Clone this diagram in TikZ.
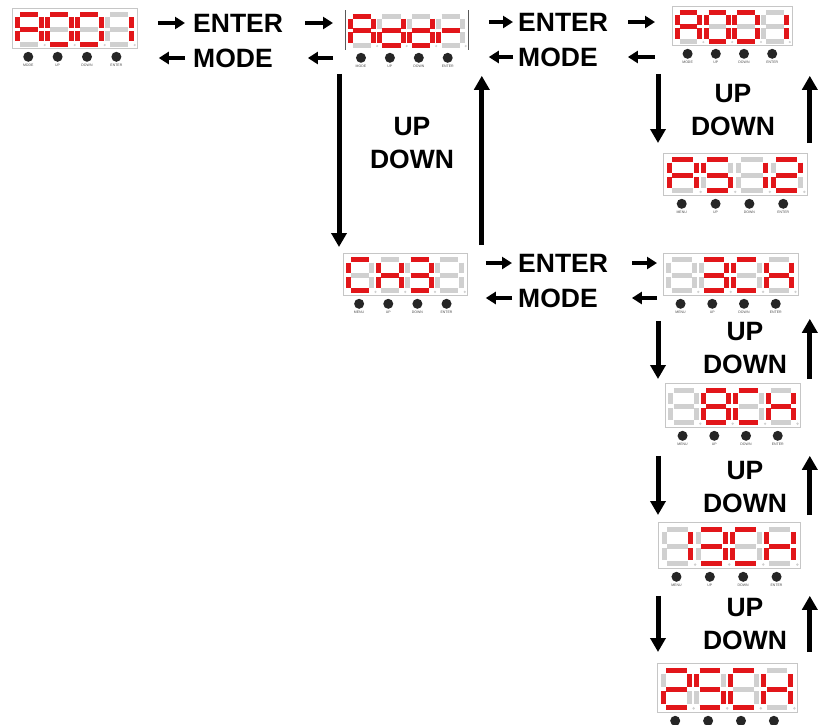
\documentclass[tikz,border=0pt]{standalone}
\usepackage{fontspec}
\setmainfont{Liberation Sans}
\usetikzlibrary{arrows.meta,positioning}

\definecolor{segred}{RGB}{226,22,26}
\definecolor{seggray}{RGB}{208,208,208}

\newcommand{\segpatha}{(2.6,0) -- (20.9,0)}
\newcommand{\segpathb}{(23.5,2.6) -- (23.5,13)}
\newcommand{\segpathc}{(23.5,16.5) -- (23.5,26.9)}
\newcommand{\segpathd}{(2.6,29.5) -- (20.9,29.5)}
\newcommand{\segpathe}{(0,16.5) -- (0,26.9)}
\newcommand{\segpathf}{(0,2.6) -- (0,13)}
\newcommand{\segpathg}{(2.6,14.75) -- (20.9,14.75)}
\newcommand{\segpathn}{}

\tikzset{
  segoff/.style={draw=seggray, line width=5pt},
  segon/.style={draw=segred, line width=5pt},
  panel/.style={draw=gray!45, line width=0.8pt, inner sep=0pt},
  panelside/.style={draw=black!65, line width=0.8pt},
  btn/.style={circle, fill=black!85, minimum size=10pt, inner sep=0pt},
  btnlabel/.style={font=\fontsize{3.5}{4}\selectfont, text=black!70, inner sep=0.5pt},
  keytext/.style={font=\fontsize{26.5}{30}\selectfont\bfseries, inner sep=0pt},
  updown/.style={font=\fontsize{26.5}{33}\selectfont\bfseries, align=center, inner sep=0pt},
  harr/.style={line width=4pt, -{Triangle[length=10pt,width=12pt]}},
  varr/.style={line width=5pt, -{Triangle[length=14pt,width=15pt]}}
}

\newcommand{\dpanel}[7][]{%
  \node[panel, #1, anchor=north west, minimum width=#4, minimum height=#5] (#2) at (#3) {};
  \begin{scope}[shift={(#2.north west)}, xscale=#4/125, yscale=#5/40]
    \foreach \segs [count=\k from 0] in {#6} {
      \begin{scope}[shift={(5.5+30*\k,6.5)}]
        \foreach \s in {a,b,c,d,e,f,g} \draw[segoff] \csname segpath\s\endcsname;
        \fill[seggray] (27.2,30.5) circle (1.2);
        \foreach \s in \segs \draw[segon] \csname segpath\s\endcsname;
      \end{scope}
    }
  \end{scope}
  \foreach \lab [count=\k from 0] in {#7,UP,DOWN,ENTER} {
    \node[btn] (#2-b\k) at ([xshift={#4*(0.13+0.235*\k)}, yshift=-8pt]#2.south west) {};
    \ifx\relax#7\relax\else\node[btnlabel, below=1pt of #2-b\k] {\lab};\fi
  }
}

\begin{document}
\begin{tikzpicture}[x=1pt, y={(0pt,-1pt)}]
  \useasboundingbox[fill=white] (0,0) rectangle (823,724);

  \dpanel{p1}{12,8}{125}{40}{{a,b,c,e,f,g},{a,b,c,d,e,f},{a,b,c,d,e,f},{b,c}}{MODE}
  \dpanel[draw=none]{p2}{345,10}{123}{39}{{a,b,c,e,f,g},{b,c,d,e,g},{b,c,d,e,g},{e,g}}{MODE}
  \draw[panelside] (p2.north west) -- (p2.south west) (p2.north east) -- (p2.south east);
  \dpanel{p3}{672,6}{120}{39}{{a,b,c,e,f,g},{a,b,c,d,e,f},{a,b,c,d,e,f},{b,c}}{MODE}
  \dpanel{p4}{663,153}{144}{42}{{a,b,c,e,f,g},{a,c,d,f,g},{b,c},{a,b,d,e,g}}{MENU}
  \dpanel{p5}{343,253}{124}{42}{{a,d,e,f},{b,c,e,f,g},{a,b,c,d,g},{n}}{MENU}
  \dpanel{p6}{663,253}{135}{42}{{n},{a,b,c,d,g},{a,d,e,f},{b,c,e,f,g}}{MENU}
  \dpanel{p7}{665,383}{135}{44}{{n},{a,b,c,d,e,f,g},{a,d,e,f},{b,c,e,f,g}}{MENU}
  \dpanel{p8}{658,522}{142}{46}{{b,c},{a,b,c,d,g},{a,d,e,f},{b,c,e,f,g}}{MENU}
  \dpanel{p9}{657,663}{140}{49}{{a,b,d,e,g},{a,c,d,f,g},{a,d,e,f},{b,c,e,f,g}}{}

  \node[keytext, anchor=west] (e1) at (193,23) {ENTER};
  \node[keytext, anchor=west] (m1) at (193,58) {MODE};
  \node[keytext, anchor=west] (e2) at (518,22) {ENTER};
  \node[keytext, anchor=west] (m2) at (518,57) {MODE};
  \node[keytext, anchor=west] (e3) at (518,263) {ENTER};
  \node[keytext, anchor=west] (m3) at (518,298) {MODE};

  \draw[harr, shorten <=20pt, shorten >=8pt] (p1.east |- e1.west) -- (e1.west);
  \draw[harr, shorten <=22pt, shorten >=12pt] (e1.east) -- (e1.east -| p2.west);
  \draw[harr, shorten <=8pt, shorten >=21pt] (m1.west) -- (m1.west -| p1.east);
  \draw[harr, shorten <=12pt, shorten >=35pt] (m1.east -| p2.west) -- (m1.east);

  \draw[harr, shorten <=20pt, shorten >=5pt] (p2.east |- e2.west) -- (e2.west);
  \draw[harr, shorten <=20pt, shorten >=17pt] (e2.east) -- (e2.east -| p3.west);
  \draw[harr, shorten <=5pt, shorten >=20pt] (m2.west) -- (m2.west -| p2.east);
  \draw[harr, shorten <=17pt, shorten >=30pt] (m2.east -| p3.west) -- (m2.east);

  \draw[harr, shorten <=18pt, shorten >=6pt] (p5.east |- e3.west) -- (e3.west);
  \draw[harr, shorten <=24pt, shorten >=6pt] (e3.east) -- (e3.east -| p6.west);
  \draw[harr, shorten <=6pt, shorten >=18pt] (m3.west) -- (m3.west -| p5.east);
  \draw[harr, shorten <=6pt, shorten >=34pt] (m3.east -| p6.west) -- (m3.east);

  \node[updown] (ud1) at (412,143) {UP\\DOWN};
  \node[updown] (ud2) at (733,110) {UP\\DOWN};
  \node[updown] (ud3) at (745,348) {UP\\DOWN};
  \node[updown] (ud4) at (745,487) {UP\\DOWN};
  \node[updown] (ud5) at (745,624) {UP\\DOWN};

  \coordinate (mlc) at ([xshift=-6pt]p2.south west);
  \coordinate (mrc) at ([xshift=14pt]p5.north east);
  \coordinate (lc) at ([xshift=-5pt]p4.west);
  \coordinate (rc) at ([xshift=2pt]p4.east);

  \draw[varr, shorten <=24pt, shorten >=6pt] (mlc) -- (mlc |- p5.north);
  \draw[varr, shorten <=8pt, shorten >=26pt] (mrc) -- (mrc |- p2.south);

  \draw[varr, shorten <=28pt, shorten >=10pt] (lc |- p3.south) -- (lc |- p4.north);
  \draw[varr, shorten <=10pt, shorten >=30pt] (rc |- p4.north) -- (rc |- p3.south);
  \draw[varr, shorten <=25pt, shorten >=4pt] (lc |- p6.south) -- (lc |- p7.north);
  \draw[varr, shorten <=4pt, shorten >=23pt] (rc |- p7.north) -- (rc |- p6.south);
  \draw[varr, shorten <=28pt, shorten >=7pt] (lc |- p7.south) -- (lc |- p8.north);
  \draw[varr, shorten <=7pt, shorten >=28pt] (rc |- p8.north) -- (rc |- p7.south);
  \draw[varr, shorten <=27pt, shorten >=11pt] (lc |- p8.south) -- (lc |- p9.north);
  \draw[varr, shorten <=11pt, shorten >=27pt] (rc |- p9.north) -- (rc |- p8.south);
\end{tikzpicture}
\end{document}
